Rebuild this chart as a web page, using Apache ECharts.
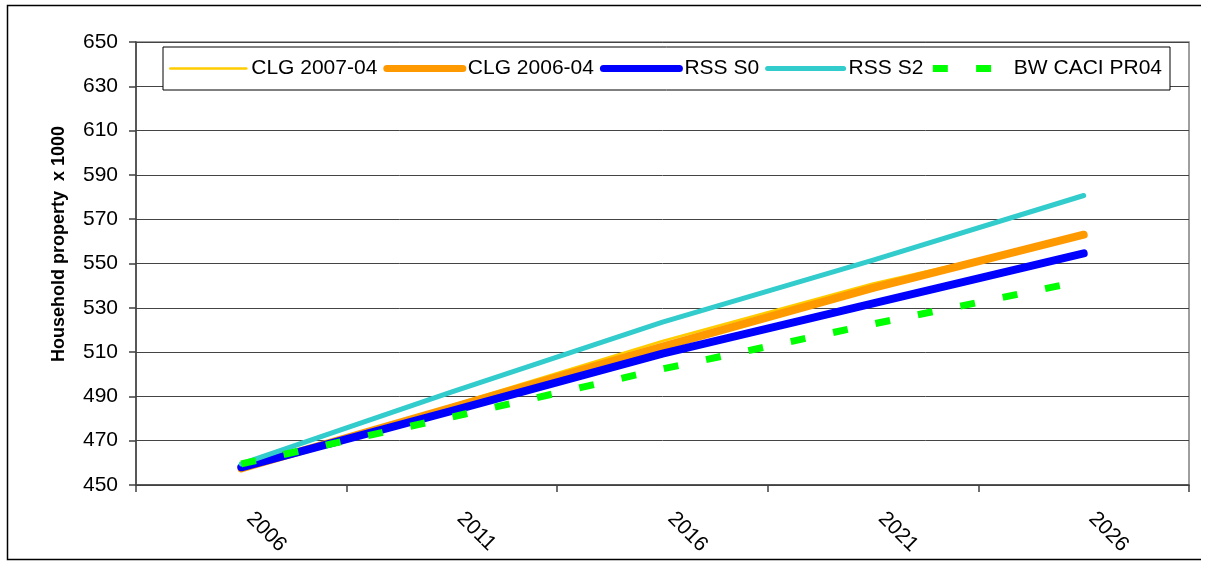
<!DOCTYPE html>
<html>
<head>
<meta charset="utf-8">
<script src="https://cdn.jsdelivr.net/npm/echarts@6/dist/echarts.min.js"></script>
<style>
  html, body { margin: 0; padding: 0; background: #fff; }
  #chart { width: 1208px; height: 561px; }
</style>
</head>
<body>
<div id="chart"></div>
<script>
// Yearly category axis; only every fifth year carries a label.
const years = ['2004', '2005', '2006', '2007', '2008', '2009', '2010', '2011', '2012',
  '2013', '2014', '2015', '2016', '2017', '2018', '2019', '2020', '2021', '2022',
  '2023', '2024', '2025', '2026', '2027', '2028'];

// Projection years and household property counts (thousands).
const projectionYears = ['2006', '2011', '2016', '2021', '2026'];
const clg2007 = [457.5, 486.0, 515.0, 541.0, 562.5];
const clg2006 = [457.5, 485.0, 512.5, 539.0, 563.0];
const rssS0   = [458.0, 483.5, 509.3, 532.0, 554.6];
const rssS2   = [459.5, 492.0, 523.5, 551.5, 580.7];
const bwCaci  = [459.5, 480.7, 502.4, 522.7, 542.2];

const seriesNames = ['CLG 2007-04', 'CLG 2006-04', 'RSS S0', 'RSS S2', 'BW CACI PR04'];

const yMin = 450, yMax = 650, yStep = 20;

const FONT = "'Liberation Sans', Arial, Helvetica, sans-serif";

const pairs = vals => projectionYears.map((y, i) => [y, vals[i]]);

const chart = echarts.init(document.getElementById('chart'), null, { renderer: 'canvas' });

chart.setOption({
  animation: false,
  backgroundColor: '#fff',
  textStyle: { fontFamily: FONT },
  grid: {
    left: 136, right: 19, top: 42, bottom: 76,
    show: true, borderColor: '#808080', borderWidth: 1.5, backgroundColor: 'transparent'
  },
  graphic: [{
    type: 'polyline',
    silent: true,
    shape: { points: [[1201, 5.5], [7.5, 5.5], [7.5, 559.5], [1201, 559.5]] },
    style: { fill: 'none', stroke: '#000', lineWidth: 1.5 }
  }],
  legend: {
    left: 163, top: 47,
    orient: 'horizontal',
    itemWidth: 76, itemHeight: 14, itemGap: 6,
    padding: [11, 8, 11, 6],
    borderColor: '#000', borderWidth: 1,
    backgroundColor: '#fff',
    textStyle: { fontSize: 21, color: '#000', fontFamily: FONT },
    itemStyle: { opacity: 0 },
    data: [
      { name: seriesNames[0], lineStyle: { width: 2.5 } },
      { name: seriesNames[1], lineStyle: { width: 7 } },
      { name: seriesNames[2], lineStyle: { width: 7 } },
      { name: seriesNames[3], lineStyle: { width: 5 } },
      { name: seriesNames[4], lineStyle: { width: 7 } }
    ]
  },
  xAxis: {
    type: 'category',
    data: years,
    boundaryGap: true,
    axisLine: { show: true, lineStyle: { color: '#404040', width: 1.5 } },
    axisTick: {
      show: true, length: 7, inside: false,
      interval: (index) => index % 5 === 0,
      lineStyle: { color: '#404040', width: 1.5 }
    },
    axisLabel: {
      interval: (index) => index % 5 === 2,
      rotate: -45,
      margin: 22,
      padding: [0, 0, 0, 12],
      fontSize: 21, color: '#000', fontFamily: FONT
    },
    splitLine: { show: false }
  },
  yAxis: {
    type: 'value',
    min: yMin, max: yMax, interval: yStep,
    name: 'Household property  x 1000',
    nameLocation: 'middle',
    nameGap: 68,
    nameTextStyle: { fontSize: 18, fontWeight: 'bold', color: '#000', fontFamily: FONT, padding: [0, 0, 0, 39] },
    axisLine: { show: true, lineStyle: { color: '#404040', width: 1.5 } },
    axisTick: { show: true, length: 7, lineStyle: { color: '#404040', width: 1.5 } },
    axisLabel: { margin: 18, fontSize: 21, color: '#000', fontFamily: FONT },
    splitLine: { show: true, lineStyle: { color: '#444', width: 1 } }
  },
  series: [
    {
      name: seriesNames[0], type: 'line', data: pairs(clg2007),
      symbol: 'none', color: '#FFCC00',
      lineStyle: { color: '#FFCC00', width: 2.5, cap: 'round', join: 'round' }
    },
    {
      name: seriesNames[1], type: 'line', data: pairs(clg2006),
      symbol: 'none', color: '#FF9900',
      lineStyle: { color: '#FF9900', width: 8, cap: 'round', join: 'round' }
    },
    {
      name: seriesNames[2], type: 'line', data: pairs(rssS0),
      symbol: 'none', color: '#0000FF',
      lineStyle: { color: '#0000FF', width: 8, cap: 'round', join: 'round' }
    },
    {
      name: seriesNames[3], type: 'line', data: pairs(rssS2),
      symbol: 'none', color: '#33CCCC',
      lineStyle: { color: '#33CCCC', width: 5, cap: 'round', join: 'round' }
    },
    {
      name: seriesNames[4], type: 'line', data: pairs(bwCaci),
      symbol: 'none', color: '#00FF00',
      lineStyle: { color: '#00FF00', width: 7, type: [15, 28.3], cap: 'butt' }
    }
  ]
});
</script>
</body>
</html>
